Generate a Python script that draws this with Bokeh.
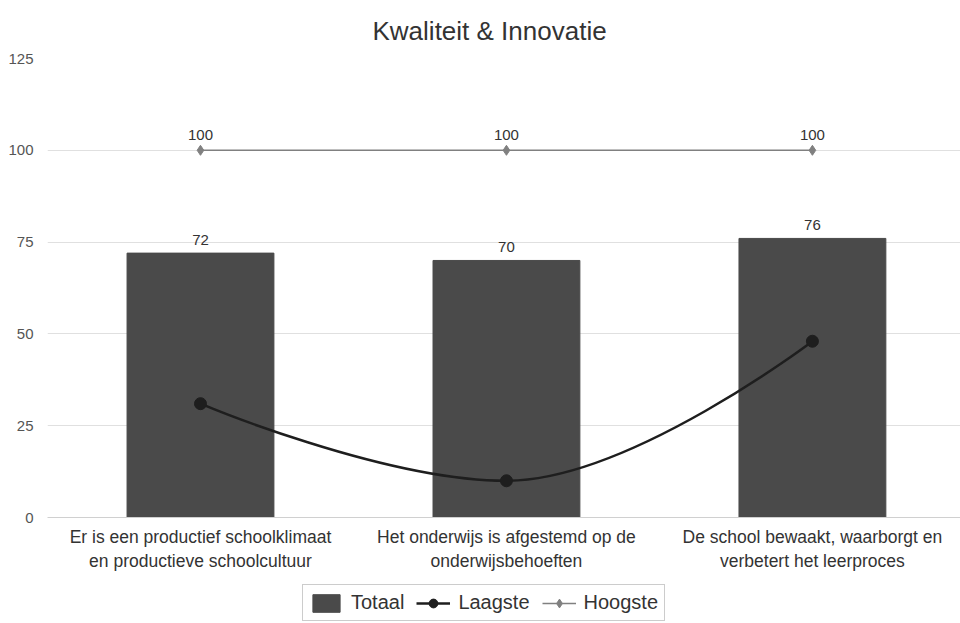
from bokeh.plotting import figure
from bokeh.layouts import column
from bokeh.models import (ColumnDataSource, FixedTicker, Legend, LegendItem,
                          Range1d, LabelSet)
from bokeh.embed import file_html
from bokeh.resources import INLINE
from bokeh.core.properties import value

# ---- data ----
categories = [
    "Er is een productief schoolklimaat\nen productieve schoolcultuur",
    "Het onderwijs is afgestemd op de\nonderwijsbehoeften",
    "De school bewaakt, waarborgt en\nverbetert het leerproces",
]
totaal = [72, 70, 76]
laagste = [31, 10, 48]
hoogste = [100, 100, 100]
y_ticks = [0, 25, 50, 75, 100, 125]
series_names = ["Totaal", "Laagste", "Hoogste"]

FONT = "Liberation Sans"
BAR_COL = "#4a4a4a"
LOW_COL = "#1e1e1e"
HIGH_COL = "#808080"
xs = list(range(len(categories)))

p = figure(width=960, height=580, output_backend="svg", toolbar_location=None,
           x_range=Range1d(-0.5, 2.484), y_range=Range1d(0, 125),
           min_border_left=47, min_border_right=0, min_border_top=58,
           min_border_bottom=63)
p.outline_line_color = None
p.background_fill_color = "white"
p.border_fill_color = "white"

p.title.text = "Kwaliteit & Innovatie"
p.title.align = "left"
p.title.offset = 325
p.title.text_font = FONT
p.title.text_font_size = "26px"
p.title.text_font_style = "normal"
p.title.text_color = "#333333"
p.title.standoff = 25

# grid
p.xgrid.grid_line_color = None
p.ygrid.grid_line_color = "#e0e0e0"
p.ygrid.grid_line_width = 1
p.ygrid.ticker = FixedTicker(ticks=y_ticks)

# axes
p.yaxis.ticker = FixedTicker(ticks=y_ticks)
p.yaxis.axis_line_color = None
p.yaxis.major_tick_line_color = None
p.yaxis.minor_tick_line_color = None
p.yaxis.major_label_text_font = FONT
p.yaxis.major_label_text_font_size = "15px"
p.yaxis.major_label_text_color = "#555555"
p.yaxis.major_label_standoff = 8

p.xaxis.ticker = FixedTicker(ticks=xs)
p.xaxis.major_label_overrides = {i: c for i, c in zip(xs, categories)}
p.xaxis.axis_line_color = "#d0d0d0"
p.xaxis.major_tick_line_color = None
p.xaxis.minor_tick_line_color = None
p.xaxis.major_label_text_font = FONT
p.xaxis.major_label_text_font_size = "17.5px"
p.xaxis.major_label_text_color = "#333333"
p.xaxis.major_label_standoff = 3

# bars
src = ColumnDataSource(dict(x=xs, totaal=totaal, laagste=laagste, hoogste=hoogste,
                            tl=[str(v) for v in totaal],
                            hl=[str(v) for v in hoogste]))
p.vbar(x="x", top="totaal", width=0.48, source=src,
       fill_color=BAR_COL, line_color=BAR_COL)
p.add_layout(LabelSet(x="x", y="totaal", text="tl", source=src, y_offset=8,
                      text_align="center", text_font=value(FONT),
                      text_font_size="15px", text_color="#333333"))

# Laagste spline (Highcharts-style smoothing of the data points)
def spline_segments(x, y, smoothing=1.5):
    n = len(x)
    lc = [(x[i], y[i]) for i in range(n)]
    rc = [(x[i], y[i]) for i in range(n)]
    for i in range(1, n - 1):
        lx = (smoothing * x[i] + x[i - 1]) / (smoothing + 1)
        ly = (smoothing * y[i] + y[i - 1]) / (smoothing + 1)
        rx = (smoothing * x[i] + x[i + 1]) / (smoothing + 1)
        ry = (smoothing * y[i] + y[i + 1]) / (smoothing + 1)
        corr = ((ry - ly) * (rx - x[i])) / (rx - lx) + y[i] - ry
        ly += corr
        ry += corr
        if ly > max(y[i - 1], y[i]):
            ly = max(y[i - 1], y[i]); ry = 2 * y[i] - ly
        elif ly < min(y[i - 1], y[i]):
            ly = min(y[i - 1], y[i]); ry = 2 * y[i] - ly
        if ry > max(y[i + 1], y[i]):
            ry = max(y[i + 1], y[i]); ly = 2 * y[i] - ry
        elif ry < min(y[i + 1], y[i]):
            ry = min(y[i + 1], y[i]); ly = 2 * y[i] - ry
        lc[i] = (lx, ly)
        rc[i] = (rx, ry)
    seg = dict(x0=[], y0=[], x1=[], y1=[], cx0=[], cy0=[], cx1=[], cy1=[])
    for i in range(1, n):
        seg["x0"].append(x[i - 1]); seg["y0"].append(y[i - 1])
        seg["x1"].append(x[i]); seg["y1"].append(y[i])
        seg["cx0"].append(rc[i - 1][0]); seg["cy0"].append(rc[i - 1][1])
        seg["cx1"].append(lc[i][0]); seg["cy1"].append(lc[i][1])
    return seg

p.bezier(x0="x0", y0="y0", x1="x1", y1="y1", cx0="cx0", cy0="cy0",
         cx1="cx1", cy1="cy1", source=ColumnDataSource(spline_segments(xs, laagste)),
         line_color=LOW_COL, line_width=2.5)
p.scatter(x="x", y="laagste", source=src, marker="circle", size=12,
          fill_color=LOW_COL, line_color=LOW_COL)

# Hoogste
p.line(x="x", y="hoogste", source=src, line_color=HIGH_COL, line_width=1.5)
p.scatter(x="x", y="hoogste", source=src, marker="diamond", size=10,
          fill_color=HIGH_COL, line_color=HIGH_COL)
p.add_layout(LabelSet(x="x", y="hoogste", text="hl", source=src, y_offset=10,
                      text_align="center", text_font=value(FONT),
                      text_font_size="15px", text_color="#333333"))

# ---- legend strip (own small figure under the chart) ----
lg = figure(width=960, height=43, output_backend="svg", toolbar_location=None,
            x_range=Range1d(0, 1), y_range=Range1d(0, 1),
            min_border_left=0, min_border_right=0, min_border_top=0,
            min_border_bottom=0)
lg.axis.visible = False
lg.grid.visible = False
lg.outline_line_color = None
nan = float("nan")
empty = ColumnDataSource(dict(x=[nan], y=[nan]))
r_bar = lg.vbar(x="x", top="y", width=0.1, source=empty,
                fill_color=BAR_COL, line_color=BAR_COL)
r_lo_l = lg.line(x="x", y="y", source=empty, line_color=LOW_COL, line_width=2.5)
r_lo_m = lg.scatter(x="x", y="y", source=empty, marker="circle", size=12,
                    fill_color=LOW_COL, line_color=LOW_COL)
r_hi_l = lg.line(x="x", y="y", source=empty, line_color=HIGH_COL, line_width=1.5)
r_hi_m = lg.scatter(x="x", y="y", source=empty, marker="diamond", size=10,
                    fill_color=HIGH_COL, line_color=HIGH_COL)

legend = Legend(items=[
    LegendItem(label=series_names[0], renderers=[r_bar]),
    LegendItem(label=series_names[1], renderers=[r_lo_l, r_lo_m]),
    LegendItem(label=series_names[2], renderers=[r_hi_l, r_hi_m]),
], orientation="horizontal", location=(255, 2))
legend.label_text_font = FONT
legend.label_text_font_size = "20px"
legend.label_text_color = "#333333"
legend.border_line_color = "#9a9a9a"
legend.border_line_width = 1.5
legend.padding = 6
legend.spacing = 12
legend.label_standoff = 8
legend.glyph_width = 34
legend.glyph_height = 22
legend.margin = 0
lg.add_layout(legend, "center")

open("out.html", "w").write(file_html(column(p, lg, spacing=0), INLINE))
